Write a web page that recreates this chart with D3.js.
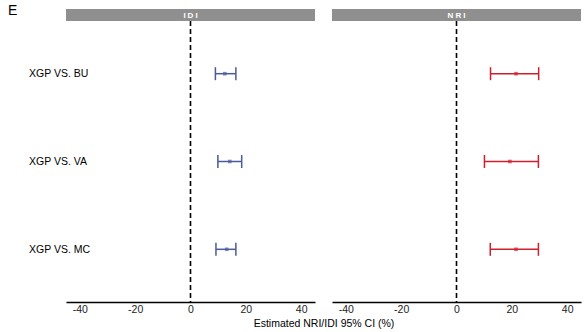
<!DOCTYPE html>
<html>
<head>
<meta charset="utf-8">
<script src="https://cdn.jsdelivr.net/npm/d3@7"></script>
<style>
  body { margin: 0; background: #fff; }
  svg { font-family: "Liberation Sans", Arial, sans-serif; }
</style>
</head>
<body>
<svg id="chart" width="585" height="332"></svg>
<script>
// comparisons shown on the y axis
const comparisons = ["XGP VS. BU", "XGP VS. VA", "XGP VS. MC"];
const panels = ["IDI", "NRI"];
const tickValues = [-40, -20, 0, 20, 40];

// estimates and 95% CI (%)
const idiEst = [12.4, 14.2, 13.1];
const idiLow = [9.0, 9.9, 9.2];
const idiHigh = [16.4, 18.5, 16.4];

const nriEst = [21.5, 19.3, 21.5];
const nriLow = [12.3, 10.1, 12.2];
const nriHigh = [29.7, 29.6, 29.6];

const panelColors = { IDI: "#4b5a98", NRI: "#d0202e" };

let svg = d3.select("#chart");

let panelWidth = 249;
let panelLeft = [66, 332];
let plotTop = 21, plotBottom = 302;

let x = d3.scaleLinear().domain([-45, 45]).range([0, panelWidth]);
let y = d3.scalePoint()
    .domain(comparisons)
    .range([plotTop, plotBottom])
    .padding(0.6);

svg.append("text")
    .attr("x", 8)
    .attr("y", 15)
    .style("font-size", "14px")
    .text("E");

// y labels on the left
svg.selectAll(".ylab")
    .data(comparisons)
    .enter()
    .append("text")
    .attr("class", "ylab")
    .attr("x", 29)
    .attr("y", d => y(d))
    .attr("dy", "0.35em")
    .style("font-size", "10.5px")
    .text(d => d);

panels.forEach((p, i) => {
    let est = p == "IDI" ? idiEst : nriEst;
    let low = p == "IDI" ? idiLow : nriLow;
    let high = p == "IDI" ? idiHigh : nriHigh;
    let color = panelColors[p];

    let g = svg.append("g")
        .attr("transform", "translate(" + panelLeft[i] + ",0)");

    // strip
    g.append("rect")
        .attr("x", 0)
        .attr("y", 9)
        .attr("width", panelWidth)
        .attr("height", 12)
        .attr("fill", "#8f8f8f");

    g.append("text")
        .attr("x", panelWidth / 2 + 1)
        .attr("y", 15)
        .attr("dy", "0.35em")
        .attr("text-anchor", "middle")
        .style("font-size", "8px")
        .style("font-weight", "bold")
        .style("letter-spacing", "2px")
        .attr("fill", "#fff")
        .text(p);

    // reference line at zero
    g.append("line")
        .attr("x1", x(0))
        .attr("x2", x(0))
        .attr("y1", plotTop)
        .attr("y2", plotBottom)
        .attr("stroke", "#000")
        .attr("stroke-width", 1.6)
        .attr("stroke-dasharray", "5,3");

    let rows = g.selectAll(".row")
        .data(comparisons)
        .enter()
        .append("g")
        .attr("class", "row");

    rows.append("line")
        .attr("x1", (d, j) => x(low[j]))
        .attr("x2", (d, j) => x(high[j]))
        .attr("y1", d => y(d))
        .attr("y2", d => y(d))
        .attr("stroke", color)
        .attr("stroke-width", 1.5);

    [low, high].forEach(arr => {
        rows.append("line")
            .attr("x1", (d, j) => x(arr[j]))
            .attr("x2", (d, j) => x(arr[j]))
            .attr("y1", d => y(d) - 6.5)
            .attr("y2", d => y(d) + 6.5)
            .attr("stroke", color)
            .attr("stroke-width", 1.5);
    });

    rows.append("rect")
        .attr("x", (d, j) => x(est[j]) - 1.8)
        .attr("y", d => y(d) - 1.8)
        .attr("width", 3.6)
        .attr("height", 3.6)
        .attr("fill", color)
        .attr("opacity", 0.7);

    // x axis
    let axis = g.append("g")
        .attr("transform", "translate(0," + plotBottom + ")")
        .call(d3.axisBottom(x)
            .tickValues(tickValues)
            .tickSize(0)
            .tickPadding(4)
            .tickFormat(d => String(d)));

    axis.select(".domain")
        .attr("stroke", "#000")
        .attr("stroke-width", 1.3);
    axis.selectAll("text")
        .style("font-size", "10.5px")
        .style("font-family", "\"Liberation Sans\", Arial, sans-serif")
        .attr("fill", "#222");
});

svg.append("text")
    .attr("x", 324)
    .attr("y", 327)
    .attr("text-anchor", "middle")
    .style("font-size", "10.5px")
    .text("Estimated NRI/IDI 95% CI (%)");
</script>
</body>
</html>
